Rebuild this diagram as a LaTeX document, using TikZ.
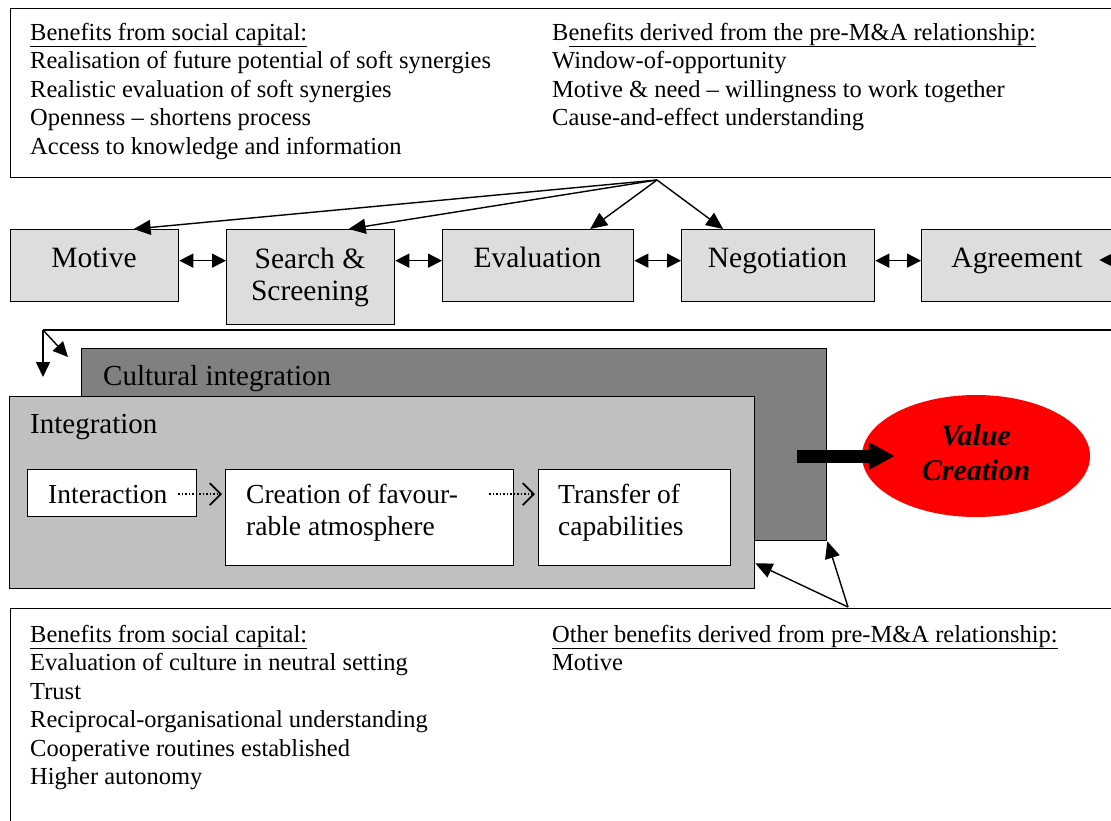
\documentclass[tikz,border=0pt]{standalone}
\usepackage{fontspec}
\setmainfont{Liberation Serif}
\usetikzlibrary{arrows.meta,shapes.geometric,calc}
\definecolor{procgray}{HTML}{DDDDDD}
\definecolor{culturegray}{HTML}{808080}
\definecolor{integgray}{HTML}{C0C0C0}
% stacked lines whose baseline is the first line
\newcommand{\stackL}[1]{\begin{tabular}[t]{@{}l@{}}#1\end{tabular}}
\newcommand{\stackC}[1]{\begin{tabular}[t]{@{}c@{}}#1\end{tabular}}
\begin{document}
\begin{tikzpicture}[x=1pt,y=-1pt,
  box/.style={draw=black, line width=1.3pt, inner sep=0pt, anchor=north west},
  procbox/.style={box, fill=procgray},
  whitebox/.style={box, fill=white},
  bodytxt/.style={inner sep=0pt, anchor=base west, font=\fontsize{24.5}{28.5}\selectfont},
  proctxt/.style={inner sep=0pt, anchor=base, font=\fontsize{29.5}{32}\selectfont},
  areatxt/.style={inner sep=0pt, anchor=base west, font=\fontsize{29}{32}\selectfont},
  innertxt/.style={inner sep=0pt, anchor=base west, font=\fontsize{27.5}{32}\selectfont},
  solidarrow/.style={line width=1.4pt, -{Triangle[length=17pt,width=15pt]}},
  dblarrow/.style={line width=1.4pt, {Triangle[length=14pt,width=14pt]}-{Triangle[length=14pt,width=14pt]}},
  dotarrow/.style={line width=1.5pt, dotted, draw=black, -{Straight Barb[length=11pt,width=22pt,line width=1.8pt]}},
  bigarrow/.style={line width=13pt, -{Triangle[length=26pt,width=26pt]}}
]
\clip (0,0) rectangle (1111,820);

% ---- top benefits panel ----
\node[box, minimum width=1120pt, minimum height=169pt] (topbox) at (10,8) {};
\node[bodytxt] (topL) at (30,40) {\stackL{\underline{Benefits from social capital:}\\
  Realisation of future potential of soft synergies\\
  Realistic evaluation of soft synergies\\
  Openness -- shortens process\\
  Access to knowledge and information}};
\node[bodytxt] (topR) at (552,40) {\stackL{B\underline{enefits derived from the pre-M\&A relationship:}\\
  Window-of-opportunity\\
  Motive \& need -- willingness to work together\\
  Cause-and-effect understanding}};

% ---- process stages ----
\node[procbox, minimum width=168pt, minimum height=72pt] (motive) at (10,229) {};
\node[procbox, minimum width=168pt, minimum height=95pt] (search) at (226,229) {};
\node[procbox, minimum width=191pt, minimum height=72pt] (evaluation) at (442,229) {};
\node[procbox, minimum width=193pt, minimum height=72pt] (negotiation) at (681,229) {};
\node[procbox, minimum width=192pt, minimum height=72pt] (agreement) at (921,229) {};

\node[proctxt] (motiveT) at (94,267) {Motive};
\node[proctxt] (searchT) at (310,268) {\stackC{Search \&\\Screening}};
\node[proctxt] (evaluationT) at (537.5,267) {Evaluation};
\node[proctxt] (negotiationT) at (777.5,267) {Negotiation};
\node[proctxt] (agreementT) at (1017,267) {Agreement};

% links between neighbouring stages
\coordinate (offright) at (1125,260);
\draw[dblarrow] ([yshift=5pt]motive.east) -- ([yshift=5pt]motive.east -| search.west);
\draw[dblarrow] ([yshift=5pt]motive.east -| search.east) -- ([yshift=5pt]evaluation.west);
\draw[dblarrow] ([yshift=5pt]evaluation.east) -- ([yshift=5pt]negotiation.west);
\draw[dblarrow] ([yshift=5pt]negotiation.east) -- ([yshift=5pt]agreement.west);
\draw[line width=1.4pt, -{Triangle[length=14pt,width=14pt]}] (offright) -- ([xshift=-15pt]agreement.east |- offright);

% arrows from the top panel down to the stages
\coordinate (apex) at (657,180);
\draw[solidarrow] (apex) -- ([xshift=39pt]motive.north);
\draw[solidarrow] (apex) -- ([xshift=38pt]search.north);
\draw[solidarrow] (apex) -- ([xshift=52pt]evaluation.north);
\draw[solidarrow] (apex) -- ([xshift=-55pt]negotiation.north);

% ---- integration area ----
\coordinate (fork) at (43,330);
\coordinate (frameR) at (1125,330);
\coordinate (forkdown) at (43,377);
\coordinate (forkdiag) at (68,357);
\draw[line width=1.3pt] (fork) -- (frameR);
\draw[solidarrow, -{Triangle[length=15pt,width=14pt]}] (fork) -- (forkdown);
\draw[solidarrow, -{Triangle[length=15pt,width=14pt]}] (fork) -- (forkdiag);

\node[box, fill=culturegray, minimum width=745pt, minimum height=192pt] (cultural) at (81,348) {};
\node[areatxt] (culturalT) at (103,385) {Cultural integration};
\node[box, fill=integgray, minimum width=745pt, minimum height=192pt] (integration) at (9,396) {};
\node[areatxt] (integrationT) at (30,433) {Integration};

\node[whitebox, minimum width=169pt, minimum height=47pt] (interaction) at (27,469) {};
\node[whitebox, minimum width=288pt, minimum height=96pt] (creation) at (225,469) {};
\node[whitebox, minimum width=192pt, minimum height=96pt] (transfer) at (538,469) {};
\node[innertxt] (interactionT) at (48,503) {Interaction};
\node[innertxt] (creationT) at (246,503) {\stackL{Creation of favour-\\rable atmosphere}};
\node[innertxt] (transferT) at (558,503) {\stackL{Transfer of\\capabilities}};

\draw[dotarrow] ([xshift=-19pt,yshift=-1pt]interaction.east) -- ([xshift=-3pt,yshift=-1pt]interaction.east -| creation.west);
\draw[dotarrow] ([xshift=-25pt,yshift=-1pt]interaction.east -| creation.east) -- ([xshift=-3pt,yshift=-1pt]interaction.east -| transfer.west);

% ---- value creation ----
\node[ellipse, fill=red, minimum width=228pt, minimum height=122pt, inner sep=0pt,
      font=\fontsize{30}{35}\bfseries\itshape\selectfont] (vc) at (976,456)
      {\stackC{Value\\Creation}};
\coordinate (vcstart) at (797,456);
\draw[bigarrow] (vcstart) -- ([xshift=33pt]vc.west);

% ---- bottom benefits panel ----
\node[box, minimum width=1120pt, minimum height=230pt] (botbox) at (10,608) {};
\coordinate (botapex) at (848,607);
\draw[solidarrow] (botapex) -- ([yshift=26pt]integration.south east);
\draw[solidarrow] (botapex) -- (cultural.south east);

\node[bodytxt] (botL) at (30,642) {\stackL{\underline{Benefits from social capital:}\\
  Evaluation of culture in neutral setting\\
  Trust\\
  Reciprocal-organisational understanding\\
  Cooperative routines established\\
  Higher autonomy}};
\node[bodytxt] (botR) at (552,642) {\stackL{\underline{Other benefits derived from pre-M\&A relationship:}\\
  Motive}};
\end{tikzpicture}
\end{document}
